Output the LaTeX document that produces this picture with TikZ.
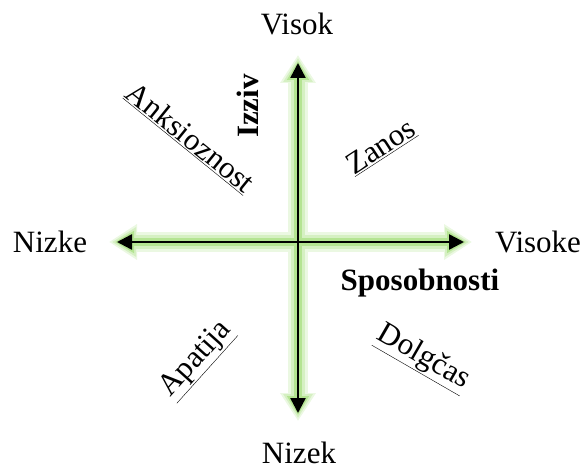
\documentclass[tikz,border=0pt]{standalone}
\usepackage{fontspec}
\setmainfont{Liberation Serif}
\usepackage{tikz}
\usetikzlibrary{positioning,arrows.meta}
\definecolor{glowgreen}{HTML}{9BDB6E}

\begin{document}
\begin{tikzpicture}[
    x=1pt, y=-1pt,
    lbl/.style={font=\fontsize{31}{36}\selectfont, inner sep=0pt},
    axlbl/.style={font=\fontsize{31}{36}\selectfont\bfseries, inner sep=0pt},
    zone/.style={font=\fontsize{31}{36}\selectfont, inner sep=0pt},
    axis/.style={{Triangle[length=15pt,width=15pt]}-{Triangle[length=15pt,width=15pt]}, line width=2.5pt, black},
    halo/.style n args={3}{{Triangle[length=#2,width=#3]}-{Triangle[length=#2,width=#3]}, line width=#1, line cap=round, line join=round}
]
    \useasboundingbox (0,0) rectangle (586,476);

    % axis ends
    \coordinate (vtop) at (298,63);
    \coordinate (vbot) at (298,413);
    \coordinate (hleft) at (117,242);
    \coordinate (hright) at (464,242);

    % glow under the axes
    \foreach \w/\l/\b/\s/\c in {20/28pt/34pt/-8pt/20, 14/24pt/28pt/-5pt/42, 8/19pt/21pt/-2pt/75} {
        \draw[halo={\w pt}{\l}{\b}, draw=glowgreen!\c, fill=glowgreen!\c, shorten <=\s, shorten >=\s] (vbot) -- (vtop);
        \draw[halo={\w pt}{\l}{\b}, draw=glowgreen!\c, fill=glowgreen!\c, shorten <=\s, shorten >=\s] (hleft) -- (hright);
    }

    \draw[axis] (vbot) -- (vtop);
    \draw[axis] (hleft) -- (hright);

    % axis ends labels
    \node[lbl, anchor=base] (visok) at (297,35) {Visok};
    \node[lbl, anchor=base] (nizek) at (299,463) {Nizek};
    \node[lbl, anchor=base] (nizke) at (50,252) {Nizke};
    \node[lbl, anchor=base] (visoke) at (538,252) {Visoke};

    % axis names
    \node[axlbl, rotate=90] (izziv) at (248,106) {Izziv};
    \node[axlbl, anchor=base] (sposobnosti) at (420,290) {Sposobnosti};

    % quadrants
    \node[zone, rotate=-39] (anksioznost) at (190,138) {\underline{Anksioznost}};
    \node[zone, rotate=33] (zanos) at (381,147) {\underline{Zanos}};
    \node[zone, rotate=48] (apatija) at (197,360) {\underline{Apatija}};
    \node[zone, rotate=-30] (dolgcas) at (423,358) {\underline{Dolgčas}};
\end{tikzpicture}
\end{document}
